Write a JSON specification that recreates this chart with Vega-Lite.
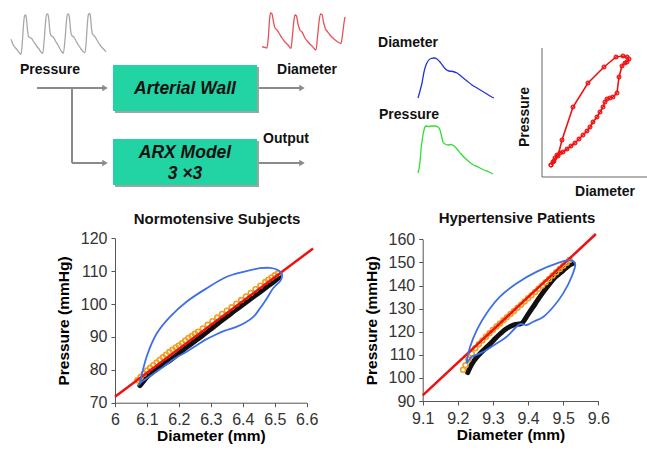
{
"$schema": "https://vega.github.io/schema/vega-lite/v6.json",
"width": 647, "height": 450, "autosize": {"type": "none"}, "padding": 0,
"background": "white",
"config": {
  "view": {"stroke": null},
  "font": "Liberation Sans",
  "axis": {"grid": false, "domainColor": "#555", "tickColor": "#555", "tickSize": 4, "labelFont": "Liberation Sans", "labelFontSize": 16, "labelColor": "#333", "titleFont": "Liberation Sans", "titleFontSize": 15.5, "titleFontWeight": "bold", "titleColor": "#000", "labelFlush": false, "labelOverlap": false},
  "axisX": {"labelPadding": 5, "titlePadding": 1},
  "axisY": {"labelPadding": 4, "titlePadding": 9}
},
"datasets": {
  "boxes": [{"cx":113,"cx2":257,"cy":65,"cy2":111},{"cx":113,"cx2":257,"cy":139,"cy2":185}],
  "shadows": [{"cx":115,"cx2":259,"cy":67,"cy2":113},{"cx":115,"cx2":259,"cy":141,"cy2":187}],
  "arrows": [{"cx":37,"cx2":104,"cy":88,"cy2":88},{"cx":72,"cx2":72,"cy":88,"cy2":163},{"cx":72,"cx2":104,"cy":163,"cy2":163},{"cx":259,"cx2":301,"cy":88,"cy2":88},{"cx":259,"cx2":301,"cy":163,"cy2":163}],
  "heads": [{"cx":105,"cy":88},{"cx":105,"cy":163},{"cx":302,"cy":88},{"cx":302,"cy":163}],
  "smallAxes": [{"cx":542,"cx2":542,"cy":48,"cy2":177},{"cx":542,"cx2":647,"cy":177,"cy2":177}],
  "labels": [{"cx":50,"cy":70,"t":"Pressure"},{"cx":307,"cy":70,"t":"Diameter"},{"cx":286,"cy":139,"t":"Output"},{"cx":408,"cy":43,"t":"Diameter"},{"cx":409,"cy":115,"t":"Pressure"},{"cx":605,"cy":192,"t":"Diameter"}],
  "vlabels": [{"cx":525,"cy":117,"t":"Pressure"}],
  "boxText": [{"cx":185,"cy":89,"t":"Arterial Wall"},{"cx":185,"cy":152.5,"t":"ARX Model"},{"cx":185,"cy":174,"t":"3 ×3"}],
  "titles": [{"cx":217,"cy":219,"t":"Normotensive Subjects"},{"cx":517,"cy":218,"t":"Hypertensive Patients"}],
  "waves": [
    {"s":"gray","i":1,"cx":11,"cy":39.3},{"s":"gray","i":2,"cx":13.3,"cy":45},{"s":"gray","i":3,"cx":16.7,"cy":49.3},{"s":"gray","i":4,"cx":19.3,"cy":52.7},{"s":"gray","i":5,"cx":21,"cy":54.3},{"s":"gray","i":6,"cx":22.5,"cy":40},{"s":"gray","i":7,"cx":23.5,"cy":25},{"s":"gray","i":8,"cx":24.5,"cy":16},{"s":"gray","i":9,"cx":25.5,"cy":15},{"s":"gray","i":10,"cx":26.5,"cy":19},{"s":"gray","i":11,"cx":27.5,"cy":30},{"s":"gray","i":12,"cx":28.5,"cy":36.5},{"s":"gray","i":13,"cx":30,"cy":37.5},{"s":"gray","i":14,"cx":31.7,"cy":38.5},{"s":"gray","i":15,"cx":33.5,"cy":41.5},{"s":"gray","i":16,"cx":35,"cy":43.5},{"s":"gray","i":17,"cx":37,"cy":46.5},{"s":"gray","i":18,"cx":39,"cy":49},{"s":"gray","i":19,"cx":41,"cy":52},{"s":"gray","i":20,"cx":42.7,"cy":53.5},
    {"s":"gray","i":21,"cx":44.2,"cy":40},{"s":"gray","i":22,"cx":45.3,"cy":25},{"s":"gray","i":23,"cx":46.5,"cy":15},{"s":"gray","i":24,"cx":47.8,"cy":14},{"s":"gray","i":25,"cx":48.8,"cy":19},{"s":"gray","i":26,"cx":49.8,"cy":30},{"s":"gray","i":27,"cx":51,"cy":35.5},{"s":"gray","i":28,"cx":53.3,"cy":37},{"s":"gray","i":29,"cx":55.5,"cy":41},{"s":"gray","i":30,"cx":57.3,"cy":44},{"s":"gray","i":31,"cx":59,"cy":47},{"s":"gray","i":32,"cx":60.7,"cy":50},{"s":"gray","i":33,"cx":62,"cy":52},{"s":"gray","i":34,"cx":63.3,"cy":53.3},
    {"s":"gray","i":35,"cx":65,"cy":40},{"s":"gray","i":36,"cx":66.2,"cy":24},{"s":"gray","i":37,"cx":67.3,"cy":15},{"s":"gray","i":38,"cx":68.5,"cy":14},{"s":"gray","i":39,"cx":69.5,"cy":18},{"s":"gray","i":40,"cx":70.5,"cy":29},{"s":"gray","i":41,"cx":71.5,"cy":35},{"s":"gray","i":42,"cx":74,"cy":37.3},{"s":"gray","i":43,"cx":76,"cy":41},{"s":"gray","i":44,"cx":78.3,"cy":45},{"s":"gray","i":45,"cx":80,"cy":47.5},{"s":"gray","i":46,"cx":81.7,"cy":50},{"s":"gray","i":47,"cx":83.5,"cy":52},{"s":"gray","i":48,"cx":85,"cy":52.7},
    {"s":"gray","i":49,"cx":86.3,"cy":40},{"s":"gray","i":50,"cx":87.3,"cy":25},{"s":"gray","i":51,"cx":88.3,"cy":15},{"s":"gray","i":52,"cx":89.5,"cy":13.5},{"s":"gray","i":53,"cx":90.5,"cy":17},{"s":"gray","i":54,"cx":91.5,"cy":28},{"s":"gray","i":55,"cx":92.5,"cy":34},{"s":"gray","i":56,"cx":95,"cy":36.7},{"s":"gray","i":57,"cx":97.5,"cy":41},{"s":"gray","i":58,"cx":100,"cy":45},{"s":"gray","i":59,"cx":103,"cy":48.5},{"s":"gray","i":60,"cx":106,"cy":51.7},
    {"s":"red","i":1,"cx":262,"cy":46.7},{"s":"red","i":2,"cx":265,"cy":47.5},{"s":"red","i":3,"cx":267,"cy":48},{"s":"red","i":4,"cx":268.5,"cy":35},{"s":"red","i":5,"cx":269.5,"cy":20},{"s":"red","i":6,"cx":270.5,"cy":13},{"s":"red","i":7,"cx":272,"cy":14},{"s":"red","i":8,"cx":273.5,"cy":22},{"s":"red","i":9,"cx":275,"cy":28},{"s":"red","i":10,"cx":277,"cy":30},{"s":"red","i":11,"cx":279,"cy":33},{"s":"red","i":12,"cx":282,"cy":38},{"s":"red","i":13,"cx":285,"cy":42},{"s":"red","i":14,"cx":288,"cy":45},{"s":"red","i":15,"cx":291,"cy":48.3},
    {"s":"red","i":16,"cx":292.5,"cy":35},{"s":"red","i":17,"cx":294,"cy":20},{"s":"red","i":18,"cx":295,"cy":15},{"s":"red","i":19,"cx":296.5,"cy":16},{"s":"red","i":20,"cx":298,"cy":24},{"s":"red","i":21,"cx":300,"cy":30},{"s":"red","i":22,"cx":302,"cy":32},{"s":"red","i":23,"cx":305,"cy":38},{"s":"red","i":24,"cx":308,"cy":42},{"s":"red","i":25,"cx":312,"cy":46},{"s":"red","i":26,"cx":316,"cy":50},
    {"s":"red","i":27,"cx":317.5,"cy":37},{"s":"red","i":28,"cx":319,"cy":22},{"s":"red","i":29,"cx":320.5,"cy":14},{"s":"red","i":30,"cx":322,"cy":14.5},{"s":"red","i":31,"cx":323.5,"cy":22},{"s":"red","i":32,"cx":325.5,"cy":29},{"s":"red","i":33,"cx":327,"cy":31},{"s":"red","i":34,"cx":330,"cy":35},{"s":"red","i":35,"cx":334,"cy":39},{"s":"red","i":36,"cx":338,"cy":42},{"s":"red","i":37,"cx":341,"cy":43.5},{"s":"red","i":38,"cx":342.5,"cy":35},{"s":"red","i":39,"cx":344,"cy":23},{"s":"red","i":40,"cx":345,"cy":17},
    {"s":"blue","i":1,"cx":418,"cy":98},{"s":"blue","i":2,"cx":420,"cy":91},{"s":"blue","i":3,"cx":422,"cy":83},{"s":"blue","i":4,"cx":424,"cy":72},{"s":"blue","i":5,"cx":426,"cy":65},{"s":"blue","i":6,"cx":428,"cy":61},{"s":"blue","i":7,"cx":431,"cy":58.5},{"s":"blue","i":8,"cx":434,"cy":58},{"s":"blue","i":9,"cx":437,"cy":59},{"s":"blue","i":10,"cx":440,"cy":62},{"s":"blue","i":11,"cx":443,"cy":66},{"s":"blue","i":12,"cx":446,"cy":69.5},{"s":"blue","i":13,"cx":449,"cy":71},{"s":"blue","i":14,"cx":453,"cy":71.5},{"s":"blue","i":15,"cx":457,"cy":73},{"s":"blue","i":16,"cx":462,"cy":77},{"s":"blue","i":17,"cx":467,"cy":81},{"s":"blue","i":18,"cx":472,"cy":85},{"s":"blue","i":19,"cx":477,"cy":88},{"s":"blue","i":20,"cx":482,"cy":91},{"s":"blue","i":21,"cx":487,"cy":94},{"s":"blue","i":22,"cx":491,"cy":96.5},{"s":"blue","i":23,"cx":494,"cy":98},
    {"s":"green","i":1,"cx":418,"cy":173},{"s":"green","i":2,"cx":420,"cy":162},{"s":"green","i":3,"cx":421,"cy":150},{"s":"green","i":4,"cx":422.5,"cy":138},{"s":"green","i":5,"cx":424,"cy":130},{"s":"green","i":6,"cx":426,"cy":126},{"s":"green","i":7,"cx":429,"cy":126.5},{"s":"green","i":8,"cx":432,"cy":126},{"s":"green","i":9,"cx":435,"cy":126},{"s":"green","i":10,"cx":438,"cy":127},{"s":"green","i":11,"cx":440,"cy":130},{"s":"green","i":12,"cx":441.5,"cy":136},{"s":"green","i":13,"cx":443,"cy":142},{"s":"green","i":14,"cx":445,"cy":144},{"s":"green","i":15,"cx":448,"cy":145},{"s":"green","i":16,"cx":451,"cy":144.5},{"s":"green","i":17,"cx":454,"cy":146},{"s":"green","i":18,"cx":457,"cy":149},{"s":"green","i":19,"cx":461,"cy":154},{"s":"green","i":20,"cx":466,"cy":159},{"s":"green","i":21,"cx":472,"cy":164},{"s":"green","i":22,"cx":478,"cy":167},{"s":"green","i":23,"cx":484,"cy":170},{"s":"green","i":24,"cx":489,"cy":172},{"s":"green","i":25,"cx":493,"cy":174}
  ],
  "loop": [
    {"i":1,"cx":551,"cy":165},{"i":2,"cx":554,"cy":161},{"i":3,"cx":558,"cy":156},{"i":4,"cx":562,"cy":140},{"i":5,"cx":573,"cy":107},{"i":6,"cx":588,"cy":83},{"i":7,"cx":604,"cy":67},{"i":8,"cx":616,"cy":57},{"i":9,"cx":623,"cy":56},{"i":10,"cx":627,"cy":57},{"i":11,"cx":629,"cy":59},{"i":12,"cx":627,"cy":62},{"i":13,"cx":625,"cy":63},{"i":14,"cx":622,"cy":66},{"i":15,"cx":619,"cy":77},{"i":16,"cx":617,"cy":93},{"i":17,"cx":613,"cy":97},{"i":18,"cx":610,"cy":98},{"i":19,"cx":607,"cy":99},{"i":20,"cx":605,"cy":102},{"i":21,"cx":603,"cy":107},{"i":22,"cx":600,"cy":112},{"i":23,"cx":597,"cy":117},{"i":24,"cx":593,"cy":122},{"i":25,"cx":590,"cy":127},{"i":26,"cx":587,"cy":131},{"i":27,"cx":583,"cy":135},{"i":28,"cx":579,"cy":139},{"i":29,"cx":575,"cy":143},{"i":30,"cx":571,"cy":146},{"i":31,"cx":567,"cy":149},{"i":32,"cx":563,"cy":152},{"i":33,"cx":560,"cy":153},{"i":34,"cx":557,"cy":155},{"i":35,"cx":555,"cy":158},{"i":36,"cx":553,"cy":162},{"i":37,"cx":551,"cy":165}
  ],
  "nBlack": [{"d":6.078,"p":75.2},{"d":6.085,"p":76.0},{"d":6.1,"p":77.8},{"d":6.125,"p":79.8},{"d":6.15,"p":81.5},{"d":6.175,"p":83.1},{"d":6.2,"p":85.0},{"d":6.225,"p":86.9},{"d":6.25,"p":88.7},{"d":6.275,"p":90.5},{"d":6.3,"p":92.4},{"d":6.325,"p":94.3},{"d":6.35,"p":96.1},{"d":6.375,"p":98.0},{"d":6.4,"p":99.8},{"d":6.425,"p":101.6},{"d":6.45,"p":103.4},{"d":6.475,"p":105.2},{"d":6.5,"p":107.0},{"d":6.515,"p":108.2}],
  "nOrange": [{"d":6.07,"p":76.8},{"d":6.08,"p":77.8},{"d":6.09,"p":78.8},{"d":6.1,"p":79.8},{"d":6.11,"p":80.6},{"d":6.12,"p":81.4},{"d":6.13,"p":82.2},{"d":6.14,"p":83.0},{"d":6.15,"p":83.8},{"d":6.16,"p":84.6},{"d":6.17,"p":85.4},{"d":6.18,"p":86.1},{"d":6.19,"p":86.8},{"d":6.2,"p":87.4},{"d":6.21,"p":88.1},{"d":6.22,"p":88.9},{"d":6.23,"p":89.7},{"d":6.24,"p":90.3},{"d":6.25,"p":91.0},{"d":6.26,"p":91.6},{"d":6.275,"p":92.6},{"d":6.29,"p":93.7},{"d":6.305,"p":94.8},{"d":6.32,"p":95.9},{"d":6.335,"p":97.0},{"d":6.35,"p":98.0},{"d":6.365,"p":99.0},{"d":6.38,"p":100.1},{"d":6.395,"p":101.2},{"d":6.41,"p":102.3},{"d":6.425,"p":103.4},{"d":6.44,"p":104.5},{"d":6.455,"p":105.6},{"d":6.47,"p":106.7},{"d":6.48,"p":107.4},{"d":6.49,"p":108.1},{"d":6.5,"p":108.8},{"d":6.51,"p":109.4}],
  "nRed": [{"d":6.0,"p":71.8},{"d":6.62,"p":116.9}],
  "nBlue": [{"i":1,"d":6.078,"p":75.9},{"i":2,"d":6.099,"p":84.0},{"i":3,"d":6.131,"p":91.1},{"i":4,"d":6.172,"p":96.1},{"i":5,"d":6.224,"p":100.7},{"i":6,"d":6.287,"p":104.8},{"i":7,"d":6.35,"p":108.3},{"i":8,"d":6.402,"p":109.8},{"i":9,"d":6.454,"p":110.9},{"i":10,"d":6.485,"p":111.0},{"i":11,"d":6.506,"p":110.5},{"i":12,"d":6.522,"p":109.3},{"i":13,"d":6.519,"p":107.3},{"i":14,"d":6.495,"p":104.8},{"i":15,"d":6.475,"p":101.7},{"i":16,"d":6.454,"p":98.7},{"i":17,"d":6.433,"p":96.1},{"i":18,"d":6.407,"p":94.3},{"i":19,"d":6.376,"p":92.9},{"i":20,"d":6.344,"p":91.9},{"i":21,"d":6.313,"p":90.6},{"i":22,"d":6.282,"p":89.1},{"i":23,"d":6.256,"p":87.5},{"i":24,"d":6.224,"p":85.5},{"i":25,"d":6.188,"p":83.5},{"i":26,"d":6.151,"p":80.9},{"i":27,"d":6.115,"p":78.4},{"i":28,"d":6.084,"p":76.4},{"i":29,"d":6.073,"p":75.4},{"i":30,"d":6.078,"p":75.9}],
  "hBlack": [{"d":9.228,"p":102.3},{"d":9.24,"p":106.0},{"d":9.26,"p":110.0},{"d":9.28,"p":113.0},{"d":9.3,"p":116.0},{"d":9.32,"p":119.0},{"d":9.34,"p":121.5},{"d":9.36,"p":123.0},{"d":9.38,"p":123.5},{"d":9.4,"p":127.5},{"d":9.42,"p":132.0},{"d":9.44,"p":136.5},{"d":9.46,"p":140.5},{"d":9.48,"p":144.0},{"d":9.5,"p":146.5},{"d":9.515,"p":148.5},{"d":9.528,"p":149.5}],
  "hOrange": [{"d":9.215,"p":103.5},{"d":9.222,"p":105.5},{"d":9.23,"p":108.0},{"d":9.24,"p":110.5},{"d":9.25,"p":112.8},{"d":9.26,"p":114.6},{"d":9.27,"p":116.2},{"d":9.28,"p":117.8},{"d":9.29,"p":119.3},{"d":9.3,"p":120.8},{"d":9.31,"p":122.2},{"d":9.32,"p":123.6},{"d":9.33,"p":125.0},{"d":9.34,"p":126.3},{"d":9.35,"p":127.7},{"d":9.36,"p":129.0},{"d":9.37,"p":130.4},{"d":9.38,"p":131.7},{"d":9.39,"p":133.1},{"d":9.4,"p":134.5},{"d":9.41,"p":135.8},{"d":9.42,"p":137.2},{"d":9.43,"p":138.6},{"d":9.44,"p":140.0},{"d":9.45,"p":141.4},{"d":9.46,"p":142.8},{"d":9.47,"p":144.3},{"d":9.48,"p":145.7},{"d":9.49,"p":147.1},{"d":9.5,"p":148.5},{"d":9.51,"p":149.9},{"d":9.518,"p":151.0}],
  "hRed": [{"d":9.1,"p":92.4},{"d":9.593,"p":162.3}],
  "hBlue": [{"i":1,"d":9.225,"p":106.3},{"i":2,"d":9.228,"p":109.5},{"i":3,"d":9.235,"p":113.5},{"i":4,"d":9.254,"p":120.7},{"i":5,"d":9.282,"p":128.0},{"i":6,"d":9.32,"p":135.2},{"i":7,"d":9.368,"p":141.0},{"i":8,"d":9.425,"p":146.0},{"i":9,"d":9.482,"p":149.6},{"i":10,"d":9.52,"p":151.0},{"i":11,"d":9.534,"p":149.6},{"i":12,"d":9.524,"p":143.8},{"i":13,"d":9.5,"p":136.6},{"i":14,"d":9.472,"p":130.8},{"i":15,"d":9.444,"p":126.5},{"i":16,"d":9.415,"p":124.3},{"i":17,"d":9.396,"p":122.9},{"i":18,"d":9.377,"p":123.3},{"i":19,"d":9.363,"p":121.5},{"i":20,"d":9.339,"p":117.8},{"i":21,"d":9.311,"p":115.0},{"i":22,"d":9.282,"p":112.1},{"i":23,"d":9.258,"p":110.3},{"i":24,"d":9.24,"p":109.2},{"i":25,"d":9.228,"p":107.0},{"i":26,"d":9.225,"p":106.3}]
},
"layer": [
  {
    "encoding": {
      "x": {"field": "cx", "type": "quantitative", "scale": {"domain": [0, 647], "nice": false, "zero": false}, "axis": null},
      "y": {"field": "cy", "type": "quantitative", "scale": {"domain": [0, 450], "reverse": true, "nice": false, "zero": false}, "axis": null}
    },
    "layer": [
      {"data": {"name": "shadows"}, "mark": {"type": "rect", "color": "#5a6a65", "opacity": 0.6}, "encoding": {"x2": {"field": "cx2"}, "y2": {"field": "cy2"}}},
      {"data": {"name": "boxes"}, "mark": {"type": "rect", "color": "#22d3a3"}, "encoding": {"x2": {"field": "cx2"}, "y2": {"field": "cy2"}}},
      {"data": {"name": "arrows"}, "mark": {"type": "rule", "color": "#8a8a8a", "strokeWidth": 2}, "encoding": {"x2": {"field": "cx2"}, "y2": {"field": "cy2"}}},
      {"data": {"name": "heads"}, "mark": {"type": "point", "shape": "triangle-right", "filled": true, "color": "#8a8a8a", "size": 40, "opacity": 1}},
      {"data": {"name": "smallAxes"}, "mark": {"type": "rule", "color": "#666", "strokeWidth": 1}, "encoding": {"x2": {"field": "cx2"}, "y2": {"field": "cy2"}}},
      {"data": {"name": "waves"}, "mark": {"type": "line", "interpolate": "monotone"},
       "encoding": {
         "order": {"field": "i"},
         "color": {"field": "s", "type": "nominal", "scale": {"domain": ["gray", "red", "blue", "green"], "range": ["#a8a8a8", "#e8505a", "#2233dd", "#33dd33"]}, "legend": null},
         "strokeWidth": {"field": "s", "type": "nominal", "scale": {"domain": ["gray", "red", "blue", "green"], "range": [1.3, 1.3, 1.8, 1.8]}, "legend": null}
       }},
      {"data": {"name": "loop"}, "mark": {"type": "line", "color": "#ee1111", "strokeWidth": 1.6, "point": {"filled": false, "size": 14, "strokeWidth": 1.2, "color": "#ee1111"}}, "encoding": {"order": {"field": "i"}}},
      {"data": {"name": "labels"}, "mark": {"type": "text", "font": "Liberation Sans", "fontSize": 14, "fontWeight": "bold", "color": "#111", "align": "center", "baseline": "middle"}, "encoding": {"text": {"field": "t"}}},
      {"data": {"name": "vlabels"}, "mark": {"type": "text", "font": "Liberation Sans", "fontSize": 14, "fontWeight": "bold", "color": "#111", "align": "center", "baseline": "middle", "angle": 270}, "encoding": {"text": {"field": "t"}}},
      {"data": {"name": "boxText"}, "mark": {"type": "text", "font": "Liberation Sans", "fontSize": 17.5, "fontWeight": "bold", "fontStyle": "italic", "color": "#111", "align": "center", "baseline": "middle"}, "encoding": {"text": {"field": "t"}}},
      {"data": {"name": "titles"}, "mark": {"type": "text", "font": "Liberation Sans", "fontSize": 15, "fontWeight": "bold", "color": "#111", "align": "center", "baseline": "middle"}, "encoding": {"text": {"field": "t"}}}
    ]
  },
  {
    "encoding": {
      "x": {"field": "d", "type": "quantitative", "scale": {"domain": [6, 6.6], "range": [115, 306.7], "nice": false, "zero": false},
        "axis": {"orient": "bottom", "offset": -47.3, "values": [6, 6.1, 6.2, 6.3, 6.4, 6.5, 6.6], "format": "~g", "title": "Diameter (mm)"}},
      "y": {"field": "p", "type": "quantitative", "scale": {"domain": [70, 120], "range": [402.7, 238.3], "nice": false, "zero": false},
        "axis": {"orient": "left", "offset": -115, "values": [70, 80, 90, 100, 110, 120], "title": "Pressure (mmHg)"}}
    },
    "layer": [
      {"data": {"name": "nBlack"}, "mark": {"type": "line", "color": "#111", "strokeWidth": 5, "strokeCap": "round", "interpolate": "monotone"}},
      {"data": {"name": "nOrange"}, "mark": {"type": "point", "filled": false, "color": "#f0a020", "size": 24, "strokeWidth": 1.6, "opacity": 1}},
      {"data": {"name": "nRed"}, "mark": {"type": "line", "color": "#ee1111", "strokeWidth": 2.5}},
      {"data": {"name": "nBlue"}, "mark": {"type": "line", "color": "#3f6fe8", "strokeWidth": 1.8, "interpolate": "catmull-rom"}, "encoding": {"order": {"field": "i"}}}
    ]
  },
  {
    "encoding": {
      "x": {"field": "d", "type": "quantitative", "scale": {"domain": [9.1, 9.6], "range": [422.7, 598.3], "nice": false, "zero": false},
        "axis": {"orient": "bottom", "offset": -49, "values": [9.1, 9.2, 9.3, 9.4, 9.5, 9.6], "format": "~g", "title": "Diameter (mm)"}},
      "y": {"field": "p", "type": "quantitative", "scale": {"domain": [90, 160], "range": [401, 239.3], "nice": false, "zero": false},
        "axis": {"orient": "left", "offset": -422.7, "values": [90, 100, 110, 120, 130, 140, 150, 160], "title": "Pressure (mmHg)"}}
    },
    "layer": [
      {"data": {"name": "hBlack"}, "mark": {"type": "line", "color": "#111", "strokeWidth": 5, "strokeCap": "round", "interpolate": "monotone"}},
      {"data": {"name": "hOrange"}, "mark": {"type": "point", "filled": false, "color": "#f0a020", "size": 24, "strokeWidth": 1.6, "opacity": 1}},
      {"data": {"name": "hRed"}, "mark": {"type": "line", "color": "#ee1111", "strokeWidth": 2.5}},
      {"data": {"name": "hBlue"}, "mark": {"type": "line", "color": "#3f6fe8", "strokeWidth": 1.8, "interpolate": "catmull-rom"}, "encoding": {"order": {"field": "i"}}}
    ]
  }
],
"resolve": {"scale": {"x": "independent", "y": "independent"}, "axis": {"x": "independent", "y": "independent"}}
}
